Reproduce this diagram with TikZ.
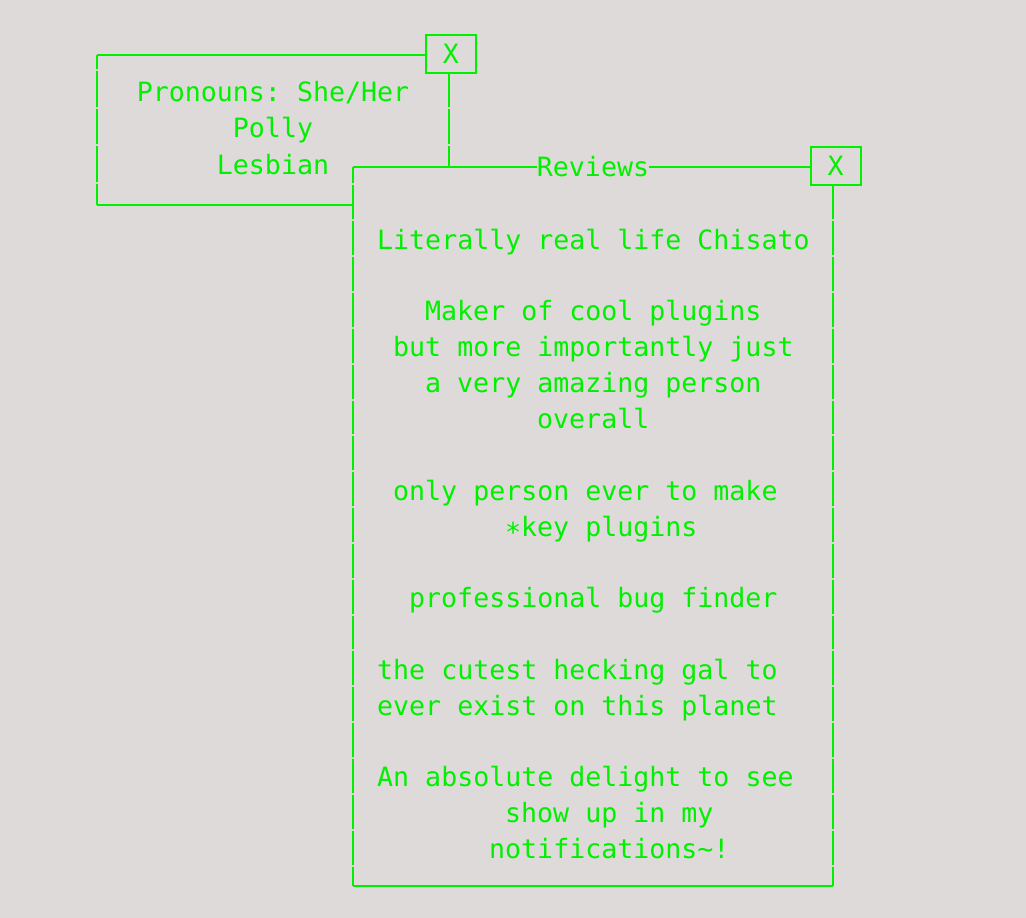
\documentclass[tikz,border=0pt]{standalone}
\usepackage{fontspec}
\setmonofont{DejaVu Sans Mono}
\definecolor{termbg}{RGB}{222,218,217}
\definecolor{termgreen}{RGB}{0,240,0}
\tikzset{
  termtext/.style={inner sep=0pt, text=termgreen, font=\ttfamily\fontsize{26.6}{32}\selectfont},
  border/.style={draw=termgreen, line width=1.3pt},
  rowbar/.style={border, dash pattern=on 33.85pt off 2pt, dash phase=17.45pt},
  profbar/.style={border, dash pattern=on 35.67pt off 2pt, dash phase=21.67pt},
  closebox/.style={termtext, draw=termgreen, fill=termbg, line width=2pt,
    minimum width=50pt, minimum height=38pt}
}
\begin{document}
\begin{tikzpicture}[x=1pt,y=-1pt]
\fill[termbg] (0,0) rectangle (1026,918);
\useasboundingbox (0,0) rectangle (1026,918);
% profile window
\draw[border] (97,55) -- (449,55);
\draw[profbar] (97,55) -- (97,205);
\draw[profbar] (449,55) -- (449,167);
\draw[border] (97,205) -- (353,205);
\node[termtext,anchor=base] (pronouns) at (273,101.7) {Pronouns: She/Her};
\node[termtext,anchor=base] (name) at (273,137.7) {Polly};
\node[termtext,anchor=base] (identity) at (273,174.7) {Lesbian};
\node[closebox] (closeProfile) at (451,54) {X};
% reviews window
\node[termtext] (reviews) at (593,167) {Reviews};
\draw[border] (reviews.west) -- (353,167);
\draw[border] (reviews.east) -- (833,167);
\draw[rowbar] (353,167) -- (353,886);
\draw[rowbar] (833,167) -- (833,886);
\draw[border] (353,886) -- (833,886);
\node[closebox] (closeReviews) at (835.5,166) {X};
\foreach \k/\c/\txt in {0/0/Literally real life Chisato,
    2/3/Maker of cool plugins, 3/1/but more importantly just,
    4/3/a very amazing person, 5/10/overall,
    7/1/only person ever to make, 8/8/∗key plugins,
    10/2/professional bug finder,
    12/0/the cutest hecking gal to, 13/0/ever exist on this planet,
    15/0/An absolute delight to see, 16/8/show up in my,
    17/7/notifications\textasciitilde!}
  \node[termtext,anchor=base west] (line\k) at ({377+16*\c},{249.2+35.85*\k}) {\txt};
\end{tikzpicture}
\end{document}
